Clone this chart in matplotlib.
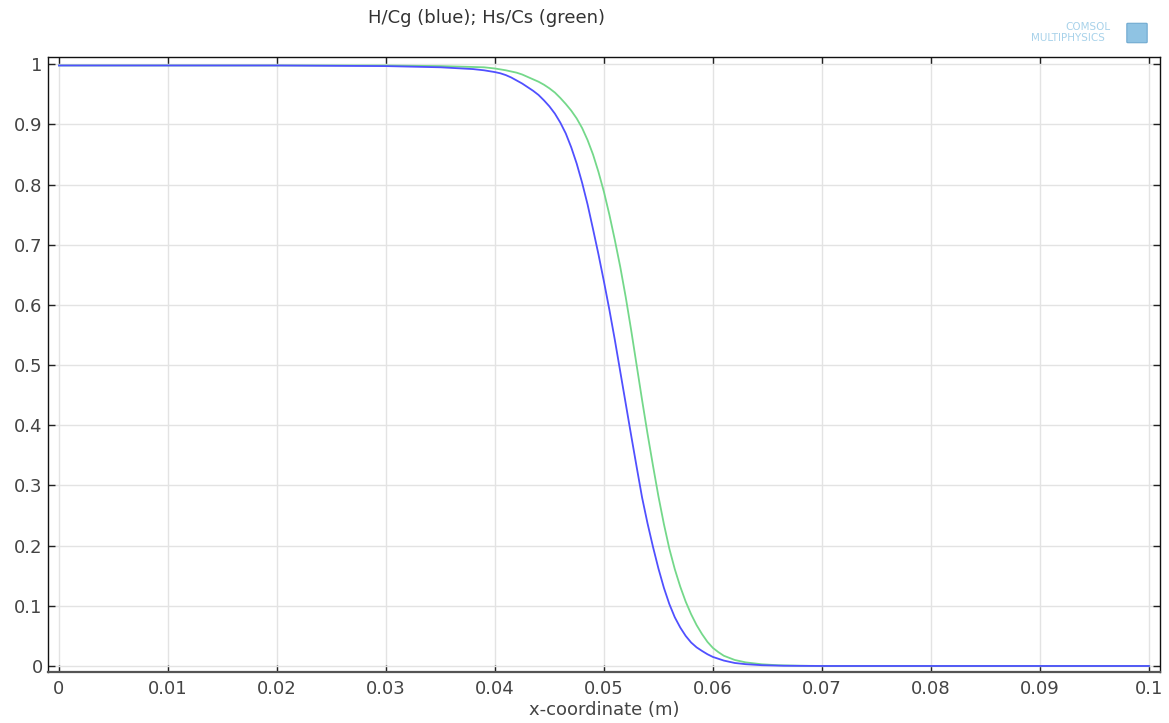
import matplotlib
matplotlib.use("Agg")
import matplotlib.pyplot as plt
from matplotlib.patches import FancyBboxPatch

# Data
blue_x = [0.0, 0.01, 0.02, 0.03, 0.035, 0.036, 0.037, 0.038, 0.039, 0.040, 0.0405,
          0.0410, 0.0415, 0.0420, 0.0425, 0.0430, 0.0435, 0.0440, 0.0445, 0.0450,
          0.0455, 0.0460, 0.0465, 0.0470, 0.0475, 0.0480, 0.0485, 0.0490, 0.0495,
          0.0500, 0.0505, 0.0510, 0.0515, 0.0520, 0.0525, 0.0530, 0.0535, 0.0540,
          0.0545, 0.0550, 0.0555, 0.0560, 0.0565, 0.0570, 0.0575, 0.0580, 0.0585,
          0.0590, 0.0595, 0.0600, 0.0610, 0.0620, 0.0630, 0.0645, 0.0665, 0.070,
          0.08, 0.09, 0.1]
blue_y = [0.998, 0.998, 0.998, 0.997, 0.995, 0.994, 0.993, 0.992, 0.990, 0.987, 0.985,
          0.982, 0.978, 0.973, 0.968, 0.962, 0.956, 0.949, 0.940, 0.930,
          0.918, 0.903, 0.885, 0.862, 0.835, 0.803, 0.767, 0.726, 0.684,
          0.639, 0.592, 0.542, 0.489, 0.436, 0.383, 0.331, 0.280, 0.237,
          0.198, 0.162, 0.130, 0.103, 0.081, 0.064, 0.050, 0.039, 0.031,
          0.025, 0.0195, 0.015, 0.009, 0.005, 0.003, 0.0013, 0.0004, 0.0,
          0.0, 0.0, 0.0]

green_x = [0.0, 0.01, 0.02, 0.03, 0.035, 0.037, 0.039, 0.040, 0.041, 0.042, 0.0425,
           0.0430, 0.0435, 0.0440, 0.0445, 0.0450, 0.0455, 0.0460, 0.0465, 0.0470,
           0.0475, 0.0480, 0.0485, 0.0490, 0.0495, 0.0500, 0.0505, 0.0510, 0.0515,
           0.0520, 0.0525, 0.0530, 0.0535, 0.0540, 0.0545, 0.0550, 0.0555, 0.0560,
           0.0565, 0.0570, 0.0575, 0.0580, 0.0585, 0.0590, 0.0595, 0.0600, 0.0605,
           0.0610, 0.0620, 0.0630, 0.0645, 0.0660, 0.0680, 0.070, 0.08, 0.09, 0.1]
green_y = [0.998, 0.998, 0.998, 0.998, 0.997, 0.996, 0.995, 0.993, 0.990, 0.986, 0.983,
           0.979, 0.975, 0.971, 0.966, 0.960, 0.953, 0.944, 0.934, 0.923,
           0.910, 0.894, 0.874, 0.850, 0.821, 0.788, 0.750, 0.708, 0.663,
           0.613, 0.558, 0.500, 0.442, 0.386, 0.333, 0.282, 0.236, 0.195,
           0.161, 0.132, 0.107, 0.086, 0.068, 0.053, 0.040, 0.030, 0.023,
           0.017, 0.010, 0.006, 0.0028, 0.0012, 0.0004, 0.0, 0.0, 0.0, 0.0]

x_ticks = [0, 0.01, 0.02, 0.03, 0.04, 0.05, 0.06, 0.07, 0.08, 0.09, 0.1]
x_tick_labels = ["0", "0.01", "0.02", "0.03", "0.04", "0.05", "0.06", "0.07", "0.08", "0.09", "0.1"]
y_ticks = [0, 0.1, 0.2, 0.3, 0.4, 0.5, 0.6, 0.7, 0.8, 0.9, 1]
y_tick_labels = ["0", "0.1", "0.2", "0.3", "0.4", "0.5", "0.6", "0.7", "0.8", "0.9", "1"]

title = "H/Cg (blue); Hs/Cs (green)"
xlabel = "x-coordinate (m)"

plt.rcParams['font.family'] = ['DejaVu Sans']

fig = plt.figure(figsize=(11.69, 7.23), dpi=100)
ax = fig.add_axes([48.3 / 1169, (723 - 672) / 723, (1160 - 48.3) / 1169, (672 - 57.3) / 723])

ax.plot(green_x, green_y, color="#74d88a", lw=1.3, zorder=3, solid_joinstyle="round")
ax.plot(blue_x, blue_y, color="#5050ff", lw=1.3, zorder=4, solid_joinstyle="round")

ax.set_xlim(-0.00098, 0.10102)
ax.set_ylim(-0.0100, 1.0116)

ax.set_xticks(x_ticks)
ax.set_xticklabels(x_tick_labels)
ax.set_yticks(y_ticks)
ax.set_yticklabels(y_tick_labels)

ax.grid(True, color="#e3e3e3", lw=1.0, zorder=0)
ax.set_axisbelow(True)

ax.tick_params(axis="both", direction="in", length=5, width=1, color="#222222",
               labelsize=13, labelcolor="#444444", top=True, right=True)
ax.tick_params(axis="x", pad=6)
ax.tick_params(axis="y", pad=4)

for side in ["top", "right", "left"]:
    ax.spines[side].set_color("#111111")
    ax.spines[side].set_linewidth(1.0)
ax.spines["bottom"].set_color("#555555")
ax.spines["bottom"].set_linewidth(1.6)

ax.set_xlabel(xlabel, fontsize=13, color="#444444", labelpad=2)

fig.text(487 / 1169, 1 - 18 / 723, title, fontsize=13, color="#333333",
         ha="center", va="center")

# COMSOL logo (text)
fig.text(1088 / 1169, 1 - 27 / 723, "COMSOL", fontsize=7.5, color="#a8d2ea",
         ha="center", va="center")
fig.text(1068 / 1169, 1 - 38 / 723, "MULTIPHYSICS", fontsize=7.5, color="#a8d2ea",
         ha="center", va="center")
logo = FancyBboxPatch((1128 / 1169, 1 - 42 / 723), 18 / 1169, 18 / 723,
                      boxstyle="round,pad=0.001", transform=fig.transFigure,
                      facecolor="#8fc3e3", edgecolor="#6fa9d0", lw=0.8)
fig.patches.append(logo)

fig.savefig("out.png", dpi=100)
